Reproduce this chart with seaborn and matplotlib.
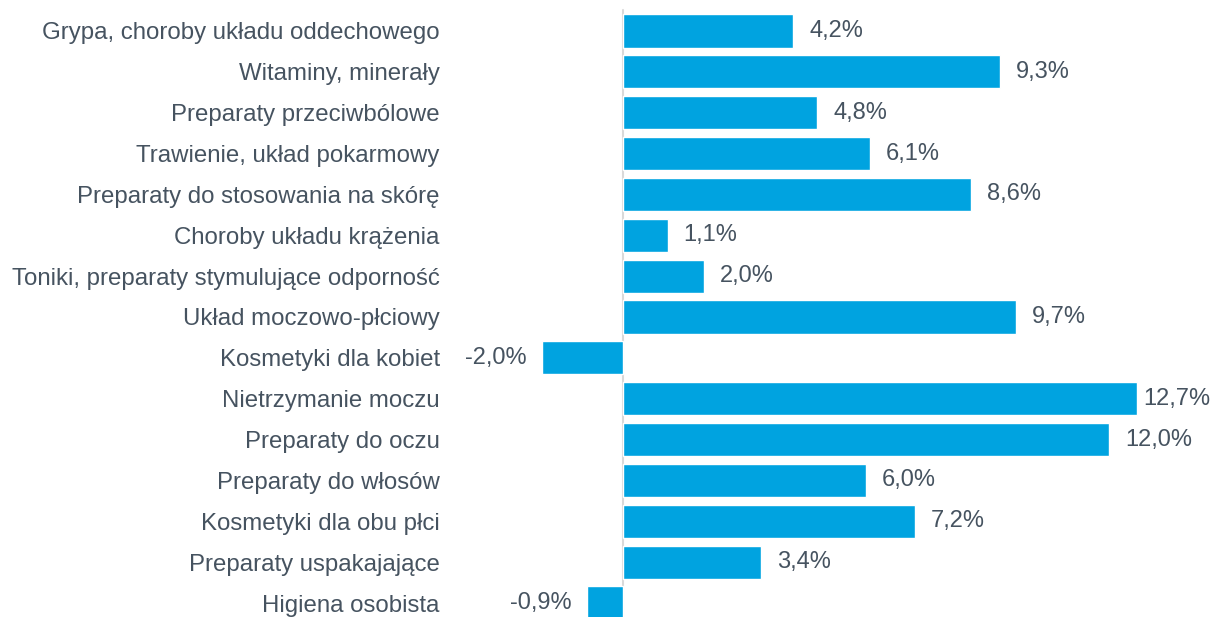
import matplotlib
matplotlib.use("Agg")
import matplotlib.pyplot as plt
import pandas as pd
import seaborn as sns

categories = [
    "Grypa, choroby układu oddechowego",
    "Witaminy, minerały",
    "Preparaty przeciwbólowe",
    "Trawienie, układ pokarmowy",
    "Preparaty do stosowania na skórę",
    "Choroby układu krążenia",
    "Toniki, preparaty stymulujące odporność",
    "Układ moczowo-płciowy",
    "Kosmetyki dla kobiet",
    "Nietrzymanie moczu",
    "Preparaty do oczu",
    "Preparaty do włosów",
    "Kosmetyki dla obu płci",
    "Preparaty uspakajające",
    "Higiena osobista",
]
values = [4.2, 9.3, 4.8, 6.1, 8.6, 1.1, 2.0, 9.7, -2.0, 12.7, 12.0, 6.0, 7.2, 3.4, -0.9]

df = pd.DataFrame({"kategoria": categories, "zmiana": values})

sns.set_style("white")
plt.rcParams["font.family"] = ["Liberation Sans", "DejaVu Sans"]

text_color = "#465360"
bar_color = "#00A3E0"

fig = plt.figure(figsize=(12.15, 6.17), dpi=100)
ax = fig.add_axes([455 / 1215, 0, (1212 - 455) / 1215, 1])

sns.barplot(data=df, x="zmiana", y="kategoria", orient="h", color=bar_color,
            width=0.81, saturation=1, ax=ax)

ax.axvline(0, ymin=0, ymax=1 - 10 / 617, color="#D9D9D9", lw=1.5, zorder=0)

ppx = 40.5  # pixels per percent
ax.set_xlim(-(623 - 455) / ppx, (1212 - 623) / ppx)
ax.set_ylim(14 + (617 - 603) / 40.86, -31 / 40.86)

for i, v in enumerate(values):
    lbl = f"{v:.1f}%".replace(".", ",")
    if v >= 0:
        # label squeezed closer to bar when it would run off the edge
        off = 4 if v > 12.5 else 11.5
        ax.annotate(lbl, (v, i), xytext=(off, 0), textcoords="offset points",
                    ha="left", va="center", fontsize=17, color=text_color)
    else:
        ax.annotate(lbl, (v, i), xytext=(-11, 0), textcoords="offset points",
                    ha="right", va="center", fontsize=17, color=text_color)

ax.set_xlabel("")
ax.set_ylabel("")
ax.set_xticks([])
ax.tick_params(axis="y", length=0, pad=11, labelsize=17.3, labelcolor=text_color)
sns.despine(ax=ax, left=True, bottom=True)

fig.savefig("out.png", dpi=100)
